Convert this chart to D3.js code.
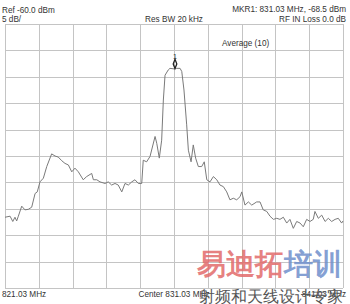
<!DOCTYPE html>
<html><head><meta charset="utf-8">
<script src="https://cdn.jsdelivr.net/npm/d3@7"></script>
<style>
html,body{margin:0;padding:0;background:#fff;}
svg{display:block;}
text{font-family:"Liberation Sans",Arial,sans-serif;fill:#333;}
</style></head>
<body>
<script>
// ---- data ----
const freqMHz = [821.03,821.33,821.49,821.62,821.72,821.82,822.02,822.21,822.41,822.61,822.81,822.94,823.10,823.30,823.50,823.79,823.99,824.18,824.39,824.58,824.78,824.98,825.17,825.37,825.66,825.86,826.16,826.26,826.46,826.65,826.95,827.14,827.34,827.54,827.73,827.94,828.13,828.33,828.53,828.72,828.92,829.12,829.21,829.41,829.61,829.91,830.01,830.16,830.30,830.40,830.50,830.69,830.79,831.03,831.19,831.39,831.49,831.62,831.78,831.88,832.04,832.17,832.31,832.47,832.67,832.82,832.97,833.16,833.36,833.56,833.75,833.95,834.15,834.34,834.54,834.74,834.94,835.04,835.23,835.43,835.63,835.92,836.12,836.31,836.52,836.71,836.91,837.11,837.30,837.50,837.70,837.89,838.09,838.29,838.49,838.68,838.88,839.08,839.27,839.37,839.57,839.77,839.97,840.16,840.36,840.56,840.75,840.95,841.03];
const levelDBm = [-96.6,-96.4,-97.4,-96.6,-97.3,-96.4,-94.5,-95.2,-95.1,-94.7,-92.1,-91.8,-89.9,-89.2,-87.0,-84.6,-85.0,-85.2,-85.9,-86.4,-86.7,-88.0,-87.3,-88.0,-89.5,-88.9,-88.3,-89.5,-89.5,-89.9,-90.2,-89.9,-90.5,-90.2,-90.5,-91.8,-90.2,-90.5,-89.9,-89.5,-90.2,-90.2,-85.8,-86.1,-85.1,-81.3,-82.6,-85.4,-82.0,-74.4,-69.7,-68.7,-68.4,-68.5,-68.4,-68.4,-69.0,-72.5,-79.1,-83.9,-86.1,-82.9,-85.4,-87.0,-87.0,-86.1,-89.5,-89.9,-88.9,-89.5,-90.5,-90.8,-91.8,-93.3,-93.0,-93.3,-92.7,-91.8,-94.3,-93.7,-94.3,-93.7,-93.7,-95.2,-95.5,-96.4,-97.0,-96.8,-97.0,-96.6,-97.7,-97.0,-98.7,-97.4,-97.7,-98.4,-97.0,-97.4,-97.0,-95.5,-96.8,-96.2,-97.4,-96.8,-97.4,-97.0,-96.8,-97.7,-97.3];
const gridFreqs = [821.03,823.03,825.03,827.03,829.03,831.03,833.03,835.03,837.03,839.03,841.03];
const gridLevels = [-110,-105,-100,-95,-90,-85,-80,-75,-70,-65,-60];
const markerFreq = 831.03, markerLevel = -68.5;
const headerTexts = {ref:"Ref -60.0 dBm", scale:"5 dB/", rbw:"Res BW 20 kHz", mkr:"MKR1: 831.03 MHz, -68.5 dBm", loss:"RF IN Loss 0.0 dB", avg:"Average (10)"};
const footerTexts = {start:"821.03 MHz", center:"Center 831.03 MHz", stop:"841.03 MHz"};

// ---- layout ----
const W = 350, H = 304;
const L = 5, R = 343, T = 24, B = 288;
const svg = d3.select("body").append("svg").attr("width", W).attr("height", H);
const x = d3.scaleLinear().domain([821.03, 841.03]).range([L, R]);
const y = d3.scaleLinear().domain([-110, -60]).range([B, T]);

// grid
const gx = svg.append("g").attr("transform", `translate(0,${B})`)
  .call(d3.axisBottom(x).tickValues(gridFreqs).tickSize(-(B - T)).tickFormat(""));
const gy = svg.append("g").attr("transform", `translate(${L},0)`)
  .call(d3.axisLeft(y).tickValues(gridLevels).tickSize(-(R - L)).tickFormat(""));
[gx, gy].forEach(g => {
  g.select(".domain").remove();
  g.selectAll(".tick line").attr("stroke", "#c4c4c4").attr("stroke-width", 1).attr("shape-rendering", "crispEdges");
});

// trace
const line = d3.line().x((d, i) => x(freqMHz[i])).y(d => y(d));
svg.append("path").datum(levelDBm).attr("d", line)
  .attr("fill", "none").attr("stroke", "#7a7a7a").attr("stroke-width", 1);

// marker
const mx = x(markerFreq), my = y(markerLevel) - 5;
svg.append("path")
  .attr("d", d3.symbol().type(d3.symbolDiamond).size(20)())
  .attr("transform", `translate(${mx + 1},${my}) scale(0.75,1.1)`)
  .attr("fill", "none").attr("stroke", "#222").attr("stroke-width", 1.6);
svg.append("text").attr("x", mx + 1).attr("y", my - 5).attr("text-anchor", "middle")
  .attr("font-size", 7).text("1");

// header text
const fs = 8.2;
svg.append("text").attr("x", 2).attr("y", 13).attr("font-size", fs).text(headerTexts.ref);
svg.append("text").attr("x", 2).attr("y", 22).attr("font-size", fs).text(headerTexts.scale);
svg.append("text").attr("x", x(831.03)).attr("y", 22).attr("text-anchor", "middle").attr("font-size", fs).text(headerTexts.rbw);
svg.append("text").attr("x", 346).attr("y", 12).attr("text-anchor", "end").attr("font-size", fs).text(headerTexts.mkr);
svg.append("text").attr("x", 346).attr("y", 22).attr("text-anchor", "end").attr("font-size", fs).text(headerTexts.loss);
svg.append("text").attr("x", 222).attr("y", 46).attr("font-size", fs).text(headerTexts.avg);

// footer text
svg.append("text").attr("x", 2).attr("y", 297).attr("font-size", fs).text(footerTexts.start);
svg.append("text").attr("x", x(831.03)).attr("y", 297).attr("text-anchor", "middle").attr("font-size", fs).text(footerTexts.center);
svg.append("text").attr("x", 346).attr("y", 297).attr("text-anchor", "end").attr("font-size", fs).text(footerTexts.stop);

// watermark
const wm = svg.append("g").attr("font-family", "'Noto Sans CJK SC',sans-serif");
const wmText = wm.append("text").attr("x", 197).attr("y", 274).attr("font-size", 29).attr("font-weight", "bold");
wmText.append("tspan").style("fill", "#e26a6a").attr("fill-opacity", 0.85).text("易迪拓");
wmText.append("tspan").style("fill", "#6f8fcc").attr("fill-opacity", 0.85).text("培训");
wm.append("text").attr("x", 199).attr("y", 302).attr("font-size", 15.8).style("fill", "#555")
  .text("射频和天线设计专家");
</script>
</body></html>
